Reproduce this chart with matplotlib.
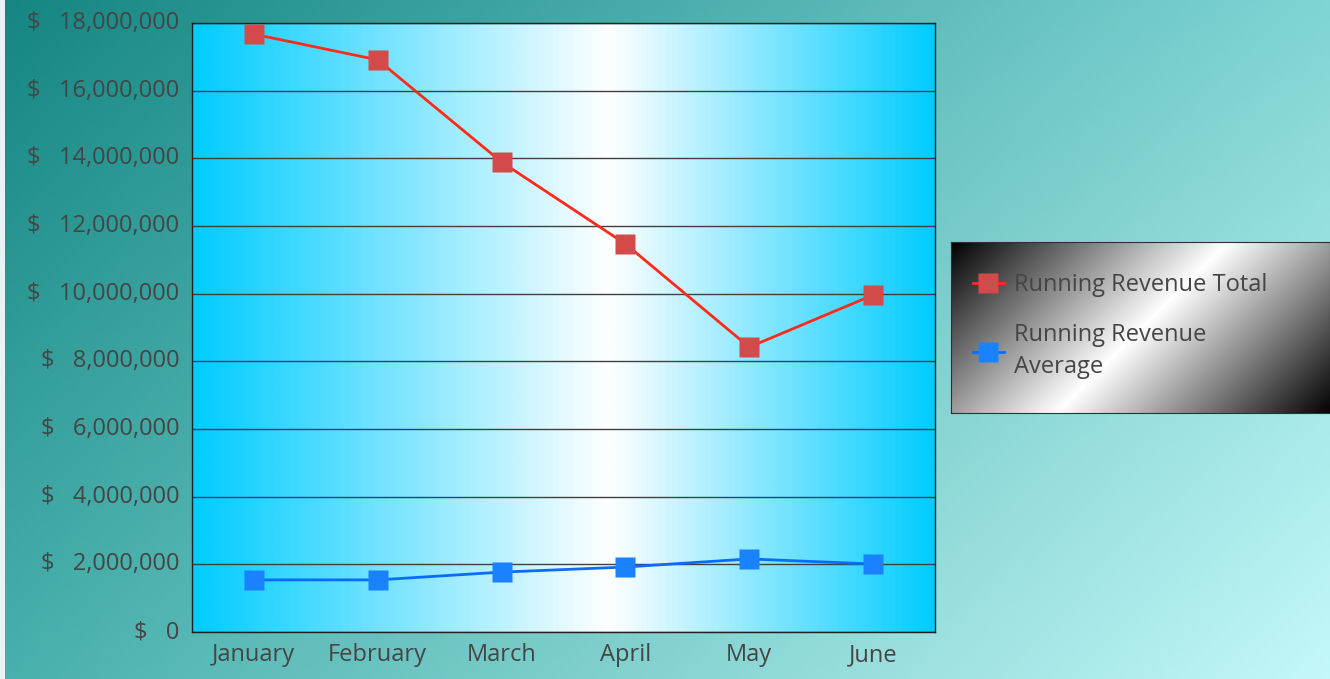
import numpy as np
import matplotlib
matplotlib.use("Agg")
import matplotlib.pyplot as plt
import matplotlib.transforms as mtransforms
from matplotlib.colors import LinearSegmentedColormap
from matplotlib.patches import Rectangle

months = ["January", "February", "March", "April", "May", "June"]
running_total = [17.67e6, 16.91e6, 13.89e6, 11.47e6, 8.42e6, 9.96e6]
running_avg = [1.54e6, 1.54e6, 1.77e6, 1.92e6, 2.16e6, 2.01e6]
yticks = np.arange(0, 18e6 + 1, 2e6)

W, H = 1330, 679
txt = "#454545"
fs = 17
plt.rcParams["font.family"] = ["Open Sans", "DejaVu Sans"]

fig = plt.figure(figsize=(W / 100, H / 100), dpi=100)

# figure background: four-corner gradient
bg = fig.add_axes([0, 0, 1, 1], zorder=0)
bg.axis("off")
u, v = np.meshgrid(np.linspace(0, 1, 266), np.linspace(0, 1, 136))
tl = np.array([21, 134, 130]) / 255
tr = np.array([128, 212, 212]) / 255
bl = np.array([72, 176, 172]) / 255
br = np.array([196, 248, 248]) / 255
img = ((1 - u) * (1 - v))[..., None] * tl + (u * (1 - v))[..., None] * tr \
    + ((1 - u) * v)[..., None] * bl + (u * v)[..., None] * br
bg.imshow(img, extent=(0, 1, 0, 1), aspect="auto", origin="upper")
bg.set_xlim(0, 1)
bg.set_ylim(0, 1)
bg.add_patch(Rectangle((0, 0), 5 / W, 1, color="#e8f4f4", lw=0))

# plot area
pos = [192 / W, (H - 632) / H, 743 / W, 609 / H]
pbg = fig.add_axes(pos, zorder=1)
pbg.axis("off")
cmap = LinearSegmentedColormap.from_list(
    "plot", [(0, "#00ccff"), (0.56, "#ffffff"), (1, "#00ccff")])
pbg.imshow(np.linspace(0, 1, 400)[None, :], cmap=cmap, extent=(0, 1, 0, 1), aspect="auto")
pbg.set_xlim(0, 1)
pbg.set_ylim(0, 1)

ax = fig.add_axes(pos, zorder=2)
ax.set_facecolor("none")
x = np.arange(len(months)) + 0.5
ax.plot(x, running_total, color="#ff2a1a", lw=2, marker="s", ms=14.4,
        mfc="#d24a4a", mec="none", clip_on=False, label="Running Revenue Total", zorder=3)
ax.plot(x, running_avg, color="#0a6cff", lw=2, marker="s", ms=14.4,
        mfc="#1a82ff", mec="none", clip_on=False, label="Running Revenue\nAverage", zorder=3)
ax.set_xlim(0, len(months))
ax.set_ylim(0, 18e6)
ax.set_xticks(x)
ax.set_xticklabels(months)
ax.set_yticks(yticks)
ax.set_yticklabels([f"$   {t:,.0f}" for t in yticks])
ax.yaxis.grid(True, color="#404040", lw=1)
ax.set_axisbelow(True)
ax.tick_params(length=0, labelsize=fs, labelcolor=txt)
ax.tick_params(axis="y", pad=9)
ax.tick_params(axis="x", pad=8)
shift = mtransforms.ScaledTranslation(0, 3 / 100, fig.dpi_scale_trans)
for lbl in ax.get_yticklabels():
    lbl.set_transform(lbl.get_transform() + shift)
for s in ax.spines.values():
    s.set_color("#202020")
    s.set_linewidth(1)

# legend box with diagonal gradient
lpos = [951 / W, (H - 413) / H, 379 / W, 171 / H]
lax = fig.add_axes(lpos, zorder=1)
lw_, lh_ = 379, 171
lu, lv = np.meshgrid(np.arange(lw_), np.arange(lh_))
p = (lu + lv) / (lw_ + lh_)
g = 1 - np.abs(p - 0.5) * 2
lax.imshow(np.dstack([g, g, g]), extent=(0, 1, 0, 1), aspect="auto", origin="upper")
lax.set_xlim(0, 1)
lax.set_ylim(0, 1)
lax.set_xticks([])
lax.set_yticks([])
for s in lax.spines.values():
    s.set_color("#303030")

handles, labels = ax.get_legend_handles_labels()
leg = fig.legend(handles, labels, loc="upper left",
                 bbox_to_anchor=(973 / W, 1 - 273 / H), frameon=False,
                 fontsize=fs, labelcolor=txt, handlelength=1.3,
                 handletextpad=0.45, labelspacing=1.1, borderpad=0, borderaxespad=0)
for t in leg.get_texts():
    t.set_linespacing(1.45)
leg.set_zorder(5)

fig.savefig("out.png", dpi=100)
